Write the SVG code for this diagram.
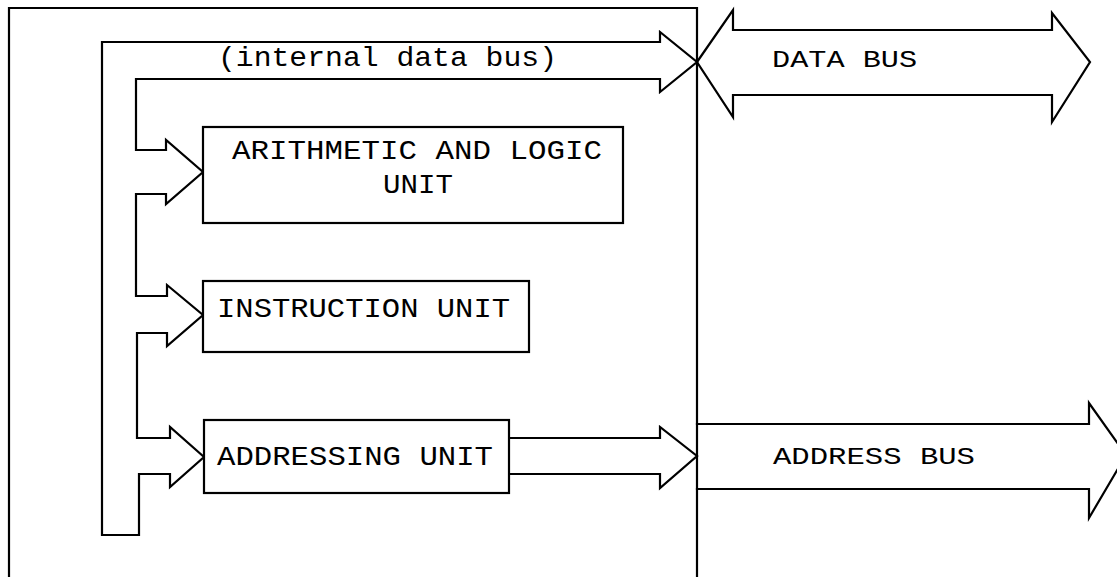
<svg xmlns="http://www.w3.org/2000/svg" width="1117" height="577" viewBox="0 0 1117 577">
<style>
.ln{fill:none;stroke:#000;stroke-width:2.2;stroke-linejoin:miter;stroke-linecap:square}
.bx{fill:#fff;stroke:#000;stroke-width:2.2}
.t{font-family:"Liberation Mono","Courier New",monospace;font-size:28px;fill:#000}
.tb{font-family:"Liberation Mono","Courier New",monospace;font-size:24px;fill:#000}
</style>
<rect width="1117" height="577" fill="#fff"/>
<g id="processor-boundary">
<path class="ln" d="M9,577 V8 H697 V577"/>
</g>
<g id="connectors">
<path id="internal-data-bus" class="ln" d="M102,42 H660 V32 L697,62 L660,92 V79 H136 V150 H166 V140 L203,172 L166,204 V194 H136 V296 H167 V285 L203,315 L167,346 V333 H137 V438 H170 V427 L204,457 L170,487 V474 H139 V535 H102 Z"/>
<text class="t" x="218" y="66" textLength="339" lengthAdjust="spacingAndGlyphs">(internal data bus)</text>
<path id="addr-out" class="ln" d="M509,438 H660 V427 L697,456 L660,488 V474 H509"/>
</g>
<g id="alu">
<rect class="bx" x="203" y="127" width="420" height="96"/>
<text class="t" x="232" y="159" textLength="370" lengthAdjust="spacingAndGlyphs">ARITHMETIC AND LOGIC</text>
<text class="t" x="383" y="193" textLength="70" lengthAdjust="spacingAndGlyphs">UNIT</text>
</g>
<g id="instruction-unit">
<rect class="bx" x="203" y="281" width="326" height="71"/>
<text class="t" x="217" y="317" textLength="293" lengthAdjust="spacingAndGlyphs">INSTRUCTION UNIT</text>
</g>
<g id="addressing-unit">
<rect class="bx" x="204" y="420" width="305" height="73"/>
<text class="t" x="217" y="465" textLength="276" lengthAdjust="spacingAndGlyphs">ADDRESSING UNIT</text>
</g>
<g id="data-bus">
<path class="ln" d="M697,62 L733,10 V30 H1052 V13 L1090,62 L1052,122 V95 H733 V117 Z"/>
<text class="tb" x="772" y="67" textLength="145" lengthAdjust="spacingAndGlyphs">DATA BUS</text>
</g>
<g id="address-bus">
<path class="ln" d="M697,424 H1089 V403 L1126,455 L1089,518 V489 H697"/>
<text class="tb" x="773" y="464" textLength="202" lengthAdjust="spacingAndGlyphs">ADDRESS BUS</text>
</g>
</svg>
